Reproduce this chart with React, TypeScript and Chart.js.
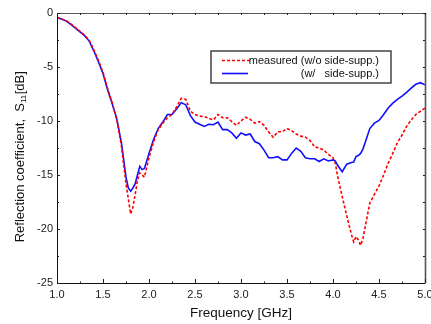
import React, { useEffect, useRef } from "react";
import { Chart, registerables } from "chart.js";

Chart.register(...registerables);

const freq = [1.0,1.05,1.1,1.15,1.2,1.25,1.3,1.35,1.4,1.45,1.5,1.55,1.6,1.65,1.7,1.75,1.775,1.8,1.825,1.85,1.875,1.9,1.925,1.95,2.0,2.05,2.1,2.15,2.2,2.25,2.3,2.35,2.4,2.45,2.5,2.55,2.6,2.65,2.7,2.75,2.8,2.85,2.9,2.95,3.0,3.05,3.1,3.15,3.2,3.25,3.3,3.35,3.4,3.45,3.5,3.55,3.6,3.65,3.7,3.75,3.8,3.85,3.9,3.95,4.0,4.025,4.05,4.1,4.15,4.2,4.225,4.25,4.275,4.3,4.325,4.35,4.4,4.45,4.5,4.55,4.6,4.65,4.7,4.75,4.8,4.85,4.9,4.95,5.0];

const withSupp = [-0.45,-0.55,-0.75,-1.05,-1.4,-1.75,-2.1,-2.6,-3.5,-4.5,-5.6,-7.1,-8.4,-9.8,-12.0,-15.2,-16.2,-16.5,-16.2,-15.8,-15.0,-14.2,-14.5,-14.4,-13.0,-11.7,-10.7,-10.1,-9.4,-9.4,-8.9,-8.3,-8.5,-9.5,-10.1,-10.3,-10.5,-10.3,-10.35,-10.1,-10.8,-10.8,-11.1,-11.6,-11.1,-11.3,-11.2,-11.9,-12.1,-12.7,-13.4,-13.4,-13.3,-13.6,-13.6,-13.0,-12.5,-12.8,-13.4,-13.5,-13.5,-13.75,-13.5,-13.7,-13.6,-13.7,-14.1,-14.7,-14.0,-13.85,-13.8,-13.3,-13.2,-13.0,-12.6,-12.0,-10.7,-10.2,-9.95,-9.4,-8.8,-8.35,-8.0,-7.7,-7.35,-6.95,-6.6,-6.45,-6.65];

const measured = [-0.4,-0.55,-0.7,-1.0,-1.35,-1.7,-2.05,-2.55,-3.4,-4.4,-5.5,-7.0,-8.3,-9.9,-12.3,-15.8,-17.2,-18.6,-18.0,-16.8,-15.5,-14.8,-15.0,-15.2,-13.4,-11.9,-10.8,-10.2,-9.7,-9.4,-8.7,-7.9,-8.0,-9.1,-9.4,-9.55,-9.6,-9.75,-9.9,-9.4,-9.7,-9.7,-10.05,-10.4,-10.0,-9.65,-9.85,-10.2,-10.05,-10.4,-11.0,-11.5,-11.0,-11.0,-10.7,-10.9,-11.2,-11.4,-11.5,-11.8,-12.4,-12.5,-12.7,-13.1,-13.4,-13.9,-15.1,-17.0,-18.8,-20.5,-21.2,-20.7,-21.0,-21.5,-20.9,-19.8,-17.6,-16.8,-16.0,-15.0,-13.9,-13.0,-12.0,-11.3,-10.5,-9.9,-9.4,-9.1,-8.8];

const xTicks = [1.0, 1.5, 2.0, 2.5, 3.0, 3.5, 4.0, 4.5, 5.0];
const xMinorTicks = [1.25, 1.75, 2.25, 2.75, 3.25, 3.75, 4.25, 4.75];
const yTicks = [0, -5, -10, -15, -20, -25];
const yMinorTicks = [-2.5, -7.5, -12.5, -17.5, -22.5];

const legendLabels = ["measured (w/o side-supp.)", "(w/   side-supp.)"];
const xTitle = "Frequency [GHz]";
const yTitleMain = "Reflection coefficient,  S";
const yTitleSub = "11";
const yTitleEnd = "[dB]";

const FONT = "'Liberation Sans', Arial, sans-serif";

const framePlugin = {
  id: "framePlugin",
  afterDraw(chart: any) {
    const ctx = chart.ctx;
    const xs = chart.scales.x;
    const ys = chart.scales.y;
    const a = chart.chartArea;
    ctx.save();
    // frame
    ctx.lineWidth = 1;
    ctx.strokeStyle = "#111";
    ctx.beginPath();
    ctx.moveTo(a.left + 0.5, a.top);
    ctx.lineTo(a.left + 0.5, a.bottom + 0.5);
    ctx.lineTo(a.right, a.bottom + 0.5);
    ctx.stroke();
    ctx.strokeStyle = "#555";
    ctx.beginPath();
    ctx.moveTo(a.left, a.top + 0.5);
    ctx.lineTo(a.right + 0.5, a.top + 0.5);
    ctx.stroke();
    ctx.lineWidth = 1.6;
    ctx.beginPath();
    ctx.moveTo(a.right + 0.5, a.top);
    ctx.lineTo(a.right + 0.5, a.bottom + 0.5);
    ctx.stroke();

    // ticks
    ctx.lineWidth = 1;
    ctx.strokeStyle = "#222";
    ctx.beginPath();
    xTicks.forEach((v) => {
      const px = Math.round(xs.getPixelForValue(v)) + 0.5;
      ctx.moveTo(px, a.bottom);
      ctx.lineTo(px, a.bottom - 4);
      ctx.moveTo(px, a.top);
      ctx.lineTo(px, a.top + 2);
    });
    xMinorTicks.forEach((v) => {
      const px = Math.round(xs.getPixelForValue(v)) + 0.5;
      ctx.moveTo(px, a.bottom);
      ctx.lineTo(px, a.bottom - 1.5);
      ctx.moveTo(px, a.top);
      ctx.lineTo(px, a.top + 2);
    });
    yTicks.forEach((v) => {
      const py = Math.round(ys.getPixelForValue(v)) + 0.5;
      ctx.moveTo(a.left, py);
      ctx.lineTo(a.left + 3, py);
      ctx.moveTo(a.right, py);
      ctx.lineTo(a.right - 2, py);
    });
    yMinorTicks.forEach((v) => {
      const py = Math.round(ys.getPixelForValue(v)) + 0.5;
      ctx.moveTo(a.left, py);
      ctx.lineTo(a.left + 2, py);
      ctx.moveTo(a.right, py);
      ctx.lineTo(a.right - 2, py);
    });
    ctx.stroke();

    // tick labels
    ctx.fillStyle = "#222";
    ctx.font = `11px ${FONT}`;
    ctx.textAlign = "center";
    ctx.textBaseline = "middle";
    xTicks.forEach((v) => {
      ctx.fillText(v.toFixed(1), xs.getPixelForValue(v), a.bottom + 12);
    });
    ctx.textAlign = "right";
    yTicks.forEach((v) => {
      ctx.fillText(String(v), a.left - 4, ys.getPixelForValue(v));
    });

    // x title
    ctx.font = `13.5px ${FONT}`;
    ctx.textAlign = "center";
    ctx.fillStyle = "#111";
    ctx.fillText(xTitle, (a.left + a.right) / 2, a.bottom + 30);

    // y title with subscript
    ctx.save();
    ctx.translate(20, 157);
    ctx.rotate(-Math.PI / 2);
    const big = `13px ${FONT}`;
    const small = `8px ${FONT}`;
    ctx.font = big;
    const w1 = ctx.measureText(yTitleMain).width;
    const w3 = ctx.measureText(yTitleEnd).width;
    ctx.font = small;
    const w2 = ctx.measureText(yTitleSub).width;
    const x0 = -(w1 + w2 + w3) / 2;
    ctx.textAlign = "left";
    ctx.font = big;
    ctx.fillText(yTitleMain, x0, 0);
    ctx.font = small;
    ctx.fillText(yTitleSub, x0 + w1, 4);
    ctx.font = big;
    ctx.fillText(yTitleEnd, x0 + w1 + w2 + 0.5, 0);
    ctx.restore();

    // legend
    ctx.lineWidth = 1.5;
    ctx.strokeStyle = "#444";
    ctx.strokeRect(211, 51, 180, 32);
    ctx.lineWidth = 1.6;
    ctx.strokeStyle = "#ff0000";
    ctx.setLineDash([3, 2]);
    ctx.beginPath();
    ctx.moveTo(222, 60.5);
    ctx.lineTo(250, 60.5);
    ctx.stroke();
    ctx.setLineDash([]);
    ctx.strokeStyle = "#1010ff";
    ctx.beginPath();
    ctx.moveTo(222, 73.5);
    ctx.lineTo(248, 73.5);
    ctx.stroke();
    ctx.fillStyle = "#111";
    ctx.font = `11px ${FONT}`;
    ctx.textAlign = "right";
    ctx.fillText(legendLabels[0], 379, 60.5);
    ctx.fillText(legendLabels[1], 379, 74);

    ctx.restore();
  },
};

export default function App() {
  const ref = useRef<HTMLCanvasElement>(null);
  useEffect(() => {
    if (!ref.current) return;
    const chart = new Chart(ref.current, {
      type: "line",
      data: {
        datasets: [
          {
            label: legendLabels[0],
            data: freq.map((f, i) => ({ x: f, y: measured[i] })),
            borderColor: "#ff0000",
            borderWidth: 1.6,
            borderDash: [3, 2],
            pointRadius: 0,
            fill: false,
            tension: 0,
          },
          {
            label: legendLabels[1],
            data: freq.map((f, i) => ({ x: f, y: withSupp[i] })),
            borderColor: "#1010ff",
            borderWidth: 1.6,
            pointRadius: 0,
            fill: false,
            tension: 0,
          },
        ],
      },
      options: {
        responsive: false,
        animation: false,
        layout: { padding: { left: 57, right: 6, top: 13, bottom: 41 } },
        plugins: { legend: { display: false }, tooltip: { enabled: false } },
        scales: {
          x: { type: "linear", min: 1, max: 5, display: false },
          y: { type: "linear", min: -25, max: 0, display: false },
        },
      },
      plugins: [framePlugin],
    });
    return () => chart.destroy();
  }, []);
  return (
    <div style={{ position: "absolute", left: 0, top: 0, width: 431, height: 324, background: "#fff" }}>
      <canvas ref={ref} width={431} height={324} />
    </div>
  );
}
